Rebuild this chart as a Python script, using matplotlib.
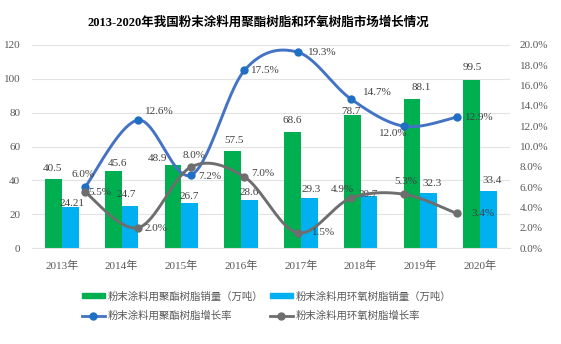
import numpy as np
import matplotlib
matplotlib.use("Agg")
import matplotlib.pyplot as plt
from matplotlib.patches import Patch
from matplotlib.lines import Line2D

plt.rcParams['font.family'] = ['Liberation Serif', 'Noto Sans CJK SC']

years = ['2013年', '2014年', '2015年', '2016年', '2017年', '2018年', '2019年', '2020年']
polyester_sales = [40.5, 45.6, 48.9, 57.5, 68.6, 78.7, 88.1, 99.5]
epoxy_sales = [24.21, 24.7, 26.7, 28.6, 29.3, 30.7, 32.3, 33.4]
polyester_growth = [6.0, 12.6, 7.2, 17.5, 19.3, 14.7, 12.0, 12.9]
epoxy_growth = [5.5, 2.0, 8.0, 7.0, 1.5, 4.9, 5.3, 3.4]

# label nudges in pixels (dx, dy)
green_off = [(-1, 11), (4, 7), (-16, 7), (1, 10), (0, 11), (-1, 3), (9, 11), (0, 12)]
cyan_off = [(2, 4), (-4, 12), (0, 6), (0, 7), (2, 9), (-1, 2), (3, 10), (4, 11)]
blue_off = [(-2, 13), (21, 9), (18, -2), (21, 0), (25, 0), (27, 6), (-10, -7), (22, 0)]
gray_off = [(15, 0), (18, -1), (3, 11), (18, 3), (26, 0), (-8, 9), (2, 13), (26, 0)]

GREEN = '#00B050'
CYAN = '#00B0F0'
BLUE = '#4472C4'
BLUE_DOT = '#1F6FC5'
GRAY = '#6E6E6E'
TXT = '#404040'


def smooth(xs, ys, n=40):
    # cubic bezier through the points, catmull-rom style tangents
    p = np.column_stack([xs, ys]).astype(float)
    p = np.vstack([p[0], p, p[-1]])
    out = []
    t = np.linspace(0, 1, n)[:, None]
    for i in range(1, len(p) - 2):
        p0, p1, p2, p3 = p[i - 1], p[i], p[i + 1], p[i + 2]
        c1 = p1 + (p2 - p0) / 6
        c2 = p2 - (p3 - p1) / 6
        seg = ((1 - t) ** 3) * p1 + 3 * ((1 - t) ** 2) * t * c1 + 3 * (1 - t) * t ** 2 * c2 + t ** 3 * p2
        out.append(seg if i == 1 else seg[1:])
    out = np.vstack(out)
    return out[:, 0], out[:, 1]


fig = plt.figure(figsize=(5.61, 3.44), dpi=100)
ax = fig.add_axes([32 / 561, 96 / 344, 478 / 561, 203 / 344])

x = np.arange(len(years))
w = 0.28
ax.bar(x - w / 2, polyester_sales, w, color=GREEN)
ax.bar(x + w / 2, epoxy_sales, w, color=CYAN)
ax.set_xlim(-0.5, len(years) - 0.5)
ax.set_ylim(0, 120)
ax.set_yticks(range(0, 121, 20))
ax.set_xticks(x)
ax.set_xticklabels(years)
ax.grid(axis='y', color='#E3E3E3', lw=0.8)
ax.set_axisbelow(True)
for s in ax.spines.values():
    s.set_visible(False)
ax.spines['bottom'].set_visible(True)
ax.spines['bottom'].set_color('#E3E3E3')
ax.tick_params(length=0, labelsize=8, colors='#595959')
ax.tick_params(axis='y', pad=8.5)
ax.tick_params(axis='x', pad=9)

for i, v in enumerate(polyester_sales):
    dx, dy = green_off[i]
    ax.annotate(f'{v}', (x[i] - w / 2, v), xytext=(dx, dy), textcoords='offset pixels',
                ha='center', va='center', fontsize=8, color=TXT)
for i, v in enumerate(epoxy_sales):
    dx, dy = cyan_off[i]
    ax.annotate(f'{v}', (x[i] + w / 2, v), xytext=(dx, dy), textcoords='offset pixels',
                ha='center', va='center', fontsize=8, color=TXT)

# growth rates sit on their own category axis (points one slot in from each edge)
ax2 = fig.add_axes(ax.get_position(), frameon=False)
ax2.set_xlim(0, len(years) + 1)
ax2.set_ylim(0, 20)
ax2.set_xticks([])
ax2.yaxis.tick_right()
ax2.set_yticks(np.arange(0, 20.1, 2))
ax2.set_yticklabels([f'{v:.1f}%' for v in np.arange(0, 20.1, 2)])
ax2.tick_params(length=0, labelsize=8, colors='#595959', pad=7)

xl = np.arange(1, len(years) + 1)
sx, sy = smooth(xl, polyester_growth)
ax2.plot(sx, sy, color=BLUE, lw=2.1)
ax2.plot(xl, polyester_growth, 'o', color=BLUE_DOT, ms=5)
sx, sy = smooth(xl, epoxy_growth)
ax2.plot(sx, sy, color=GRAY, lw=2.1)
ax2.plot(xl, epoxy_growth, 'o', color=GRAY, ms=5)

for i, v in enumerate(polyester_growth):
    dx, dy = blue_off[i]
    ax2.annotate(f'{v:.1f}%', (xl[i], v), xytext=(dx, dy), textcoords='offset pixels',
                 ha='center', va='center', fontsize=8, color=TXT)
for i, v in enumerate(epoxy_growth):
    dx, dy = gray_off[i]
    ax2.annotate(f'{v:.1f}%', (xl[i], v), xytext=(dx, dy), textcoords='offset pixels',
                 ha='center', va='center', fontsize=8, color=TXT)

fig.text(0.46, 1 - 23 / 344, '2013-2020年我国粉末涂料用聚酯树脂和环氧树脂市场增长情况',
         ha='center', va='center', fontsize=9, fontweight='bold', color='black')

# legend fills column by column, so interleave to get bars on the first row
handles = [
    Patch(color=GREEN, label='粉末涂料用聚酯树脂销量（万吨）'),
    Line2D([], [], color=BLUE, lw=2, marker='o', ms=5, mfc=BLUE_DOT, mec=BLUE_DOT,
           label='粉末涂料用聚酯树脂增长率'),
    Patch(color=CYAN, label='粉末涂料用环氧树脂销量（万吨）'),
    Line2D([], [], color=GRAY, lw=2, marker='o', ms=5, label='粉末涂料用环氧树脂增长率'),
]
leg = fig.legend(handles=handles, ncol=2, loc='center', bbox_to_anchor=(0.475, 1 - 306 / 344),
                 frameon=False, fontsize=7.5, handlelength=2.2, handleheight=0.4,
                 columnspacing=0.6, handletextpad=0.3, labelspacing=0.85)
for t in leg.get_texts():
    t.set_color('#595959')

fig.savefig('out.png', dpi=100)
